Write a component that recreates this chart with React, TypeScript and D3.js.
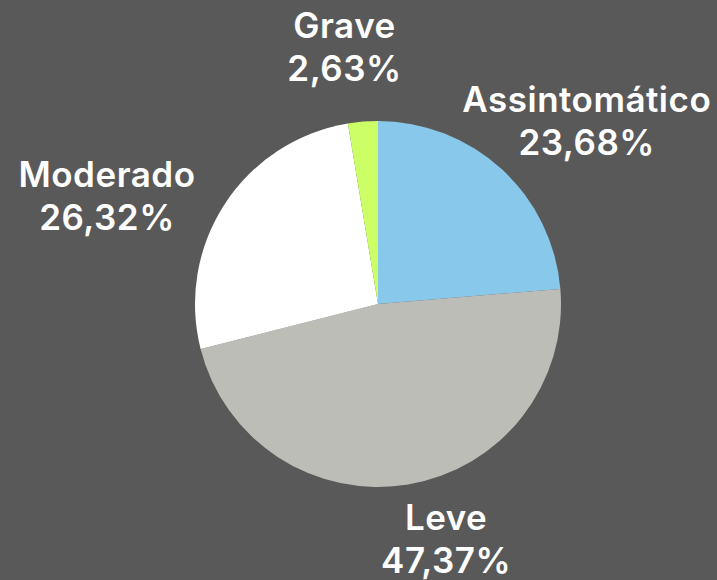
import { useRef, useEffect } from "react";
import * as d3 from "d3";

const categories = ["Assintomático", "Leve", "Moderado", "Grave"];
const counts = [9, 18, 10, 1];
const percentLabels = ["23,68%", "47,37%", "26,32%", "2,63%"];
const colors = ["#88C8EB", "#BDBDB8", "#FFFFFF", "#CCFF66"];

// hand-placed label tweaks, as in the source chart
const labelNudge: [number, number][] = [
  [-13, -3],
  [24, -8],
  [-27, 26],
  [-12, -13],
];

const WIDTH = 717;
const HEIGHT = 580;
const CX = 378;
const CY = 304;
const RADIUS = 183;

export default function App() {
  const labelsRef = useRef<SVGGElement>(null);

  const pie = d3
    .pie<number>()
    .sort(null)
    .value((d) => d);
  const arcs = pie(counts);
  const arcGen = d3.arc<d3.PieArcDatum<number>>().innerRadius(0).outerRadius(RADIUS);

  useEffect(() => {
    const g = d3.select(labelsRef.current);
    g.selectAll("*").remove();
    const offset = 20;
    arcs.forEach((a, i) => {
      const mid = (a.startAngle + a.endAngle) / 2;
      const label = g.append("g");
      const text = label
        .append("text")
        .attr("text-anchor", "middle")
        .attr("fill", "#ffffff")
        .attr("font-family", "Inter, Lato, sans-serif")
        .attr("font-weight", 600)
        .attr("font-size", 35)
        .attr("letter-spacing", 0.5);
      text.append("tspan").attr("x", 0).attr("y", 0).text(categories[i]);
      text.append("tspan").attr("x", 0).attr("y", 43).text(percentLabels[i]);
      const box = (text.node() as SVGTextElement).getBBox();
      const bx = box.x + box.width / 2;
      const by = box.y + box.height / 2;
      const ax = CX + Math.sin(mid) * (RADIUS + offset);
      const ay = CY - Math.cos(mid) * (RADIUS + offset);
      const cx = ax + (Math.sin(mid) * box.width) / 2 + labelNudge[i][0];
      const cy = ay - (Math.cos(mid) * box.height) / 2 + labelNudge[i][1];
      label.attr("transform", `translate(${cx - bx},${cy - by})`);
    });
  }, []);

  return (
    <svg
      width={WIDTH}
      height={HEIGHT}
      style={{ position: "absolute", left: 0, top: 0, background: "#595959" }}
    >
      <rect width={WIDTH} height={HEIGHT} fill="#595959" />
      <g transform={`translate(${CX},${CY})`}>
        {arcs.map((a, i) => (
          <path key={i} d={arcGen(a) || ""} fill={colors[i]} />
        ))}
      </g>
      <g ref={labelsRef} />
    </svg>
  );
}
